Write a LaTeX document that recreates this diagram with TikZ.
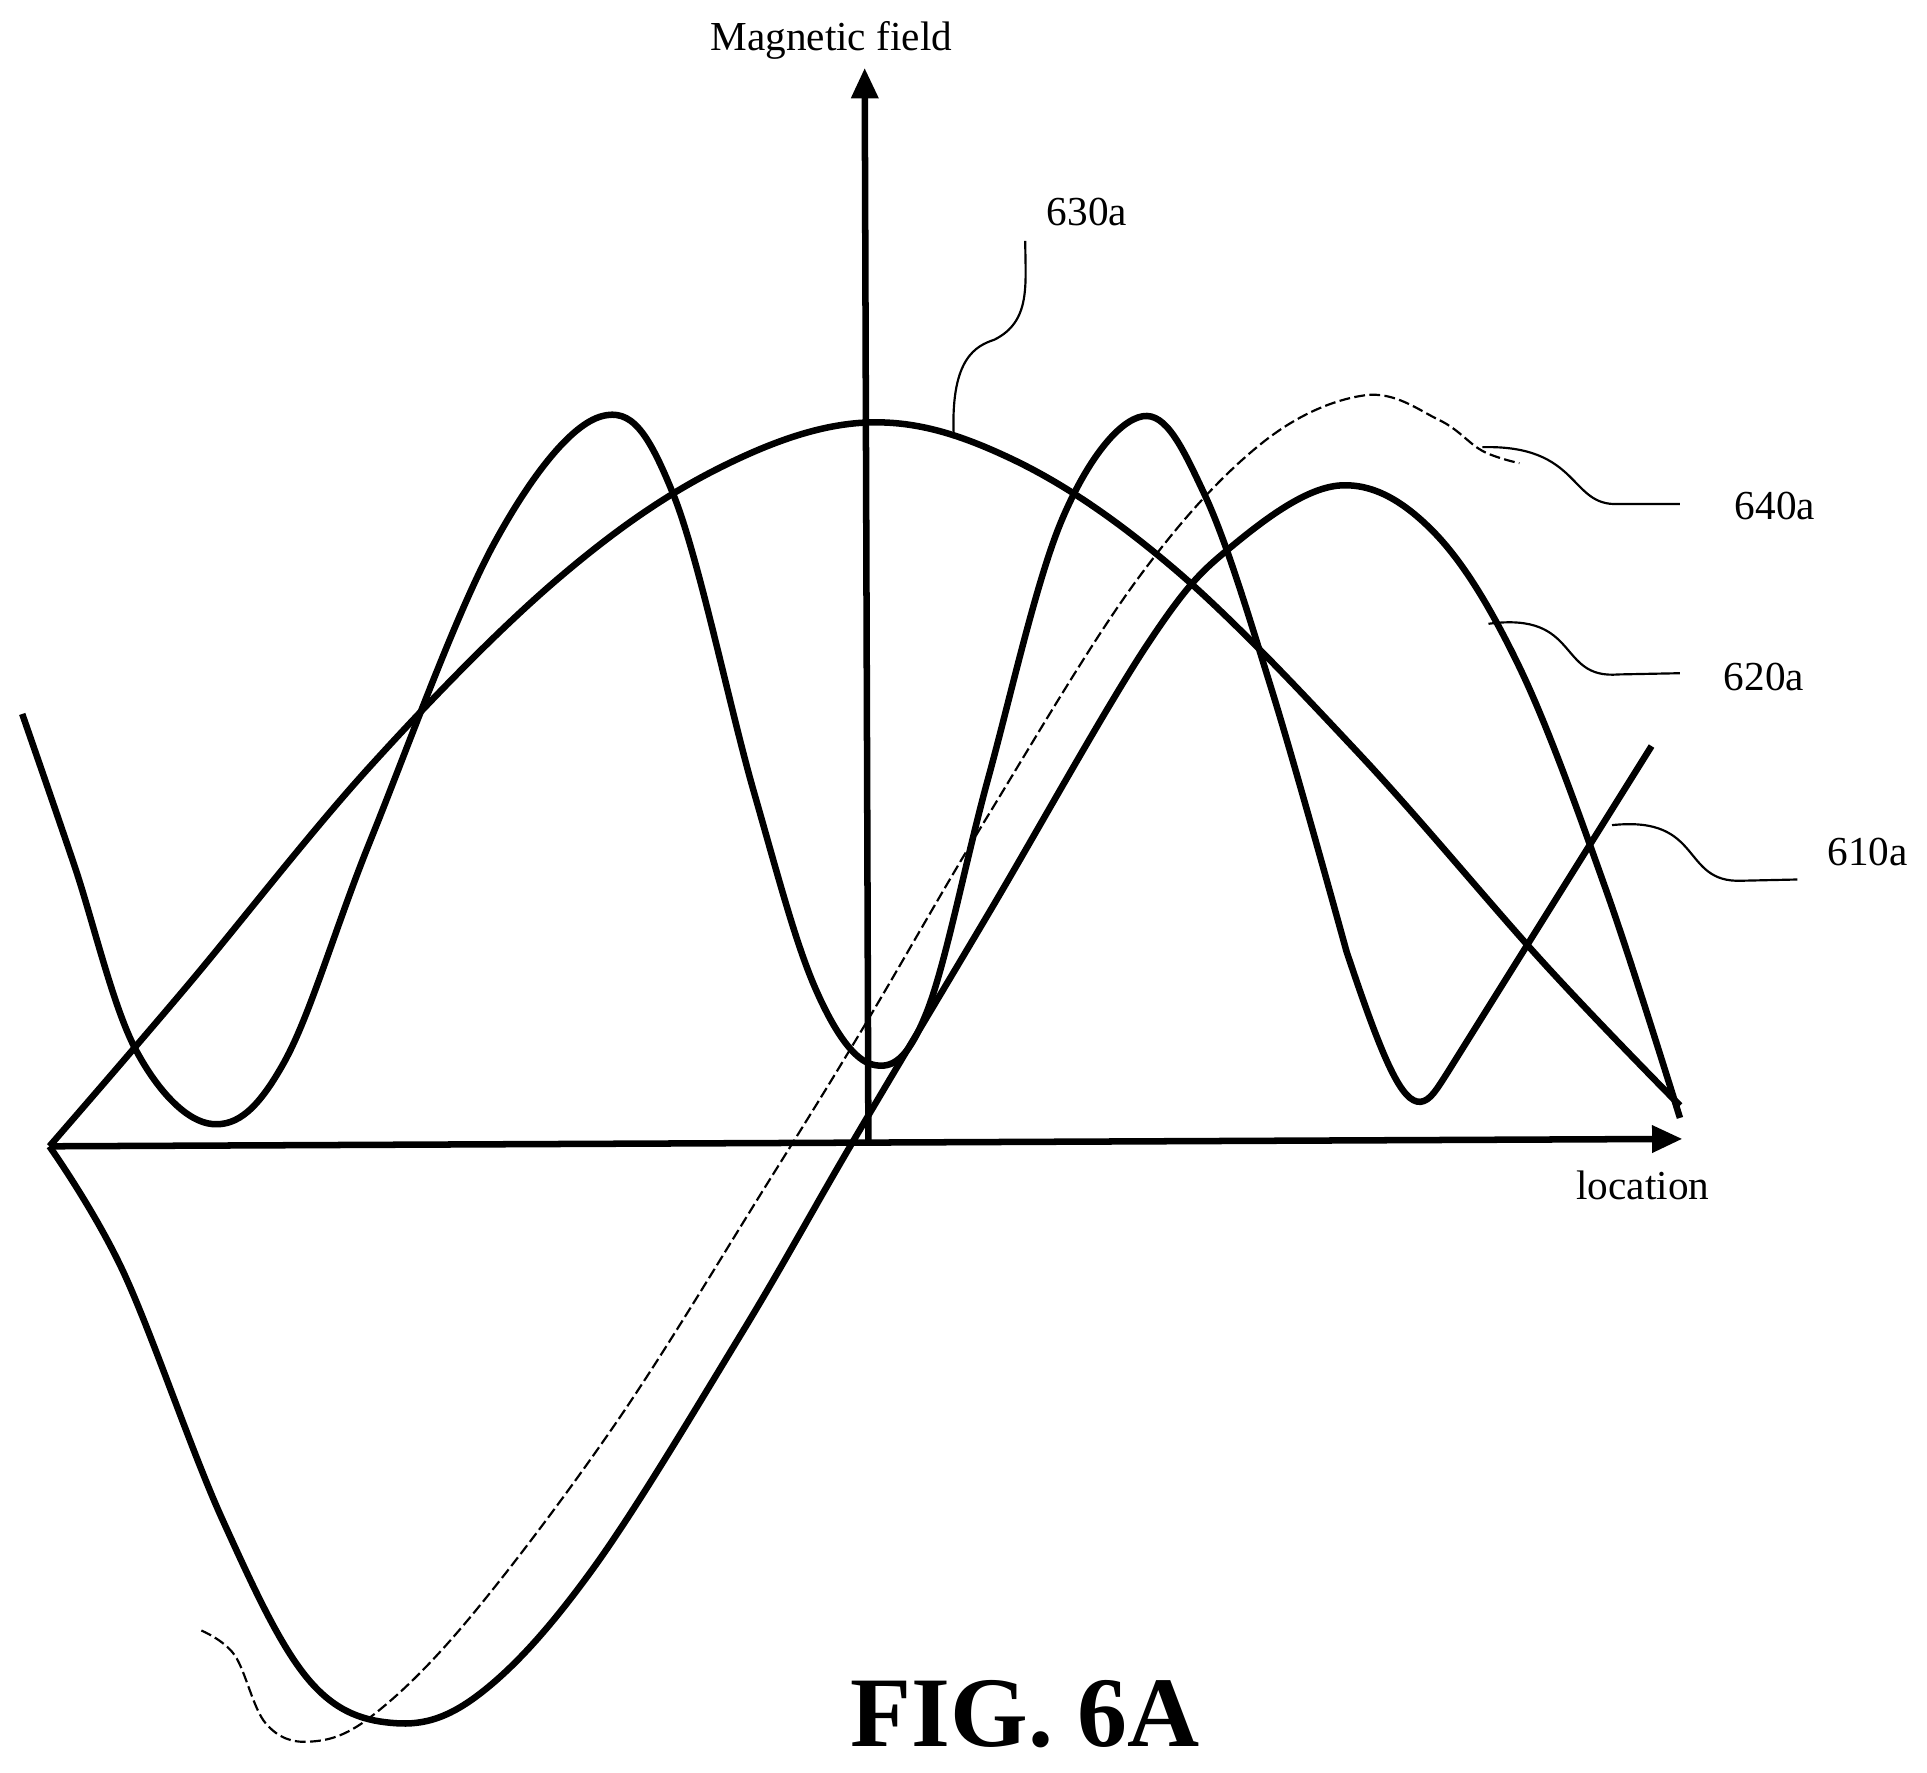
\documentclass[tikz,border=0pt]{standalone}
\usepackage{fontspec}
\setmainfont{Liberation Serif}
\usetikzlibrary{arrows.meta}
\begin{document}
\begin{tikzpicture}[x=0.02cm,y=-0.02cm,
  curve/.style={line width=3pt,line join=round},
  lead/.style={line width=1pt},
  lbl/.style={font=\fontsize{19}{22}\selectfont,inner sep=0pt}]
\useasboundingbox (0,0) rectangle (1560,1435);
% axes
\coordinate (o) at (40,928);
\coordinate (xe) at (1362,922);
\coordinate (yb) at (703,925);
\coordinate (ye) at (700,55);
\draw[line width=3pt,-{Triangle[length=14pt,width=12pt]}] (o) -- (xe);
\draw[line width=3pt,-{Triangle[length=14pt,width=12pt]}] (yb) -- (ye);
\node[lbl] (mf) at (673,33) {Magnetic field};
\node[lbl] (loc) at (1330,960) {location};
% 610a
\draw[curve] plot[smooth,tension=0.6] coordinates {(40,928) (100,1030) (180,1230) (250,1360) (320,1395) (390,1370) (480,1270) (600,1080) (690,925) (800,740) (930,520) (1000,440) (1085,393) (1160,430) (1230,540) (1300,720) (1360,905)};
% 620a
\draw[curve] plot[smooth,tension=0.6] coordinates {(18,578) (60,700) (110,850) (172,910) (230,860) (300,680) (400,440) (487,337) (545,400) (610,640) (660,800) (707,862) (750,820) (800,630) (860,420) (925,337) (975,400) (1030,560) (1090,770)}
  .. controls (1120,860) and (1135,893) .. (1150,892) .. controls (1158,891) and (1163,882) .. (1172,868) -- (1337,604);
% 630a
\draw[curve] plot[smooth,tension=0.6] coordinates {(40,928) (150,800) (300,620) (450,470) (580,380) (703,342) (820,372) (950,460) (1100,610) (1250,780) (1360,895)};
% 640a dashed
\draw[line width=1pt,dashed,dash pattern=on 5pt off 2pt] plot[smooth,tension=0.6] coordinates {(163,1320) (190,1340) (215,1395) (250,1410) (300,1390) (380,1310) (500,1150) (620,960) (700,830) (800,660) (920,470) (1020,360) (1105,320) (1165,340) (1200,365) (1230,375)};
% leaders
\node[lbl] (l630) at (880,172) {630a};
\node[lbl] (l640) at (1437,410) {640a};
\node[lbl] (l620) at (1428,548) {620a};
\node[lbl] (l610) at (1512,690) {610a};
\draw[lead] (772,350) .. controls (770,290) and (790,280) .. (805,275) .. controls (835,260) and (830,230) .. (830,195);
\draw[lead] (1200,362) .. controls (1280,360) and (1270,410) .. (1310,408) -- (1360,408);
\draw[lead] (1205,505) .. controls (1280,495) and (1260,550) .. (1310,546) -- (1360,545);
\draw[lead] (1305,668) .. controls (1380,660) and (1360,715) .. (1410,713) -- (1455,712);
\node[inner sep=0pt,anchor=base,font=\bfseries\fontsize{46}{54}\selectfont] (fig) at (830,1414) {FIG. 6A};
\end{tikzpicture}
\end{document}
